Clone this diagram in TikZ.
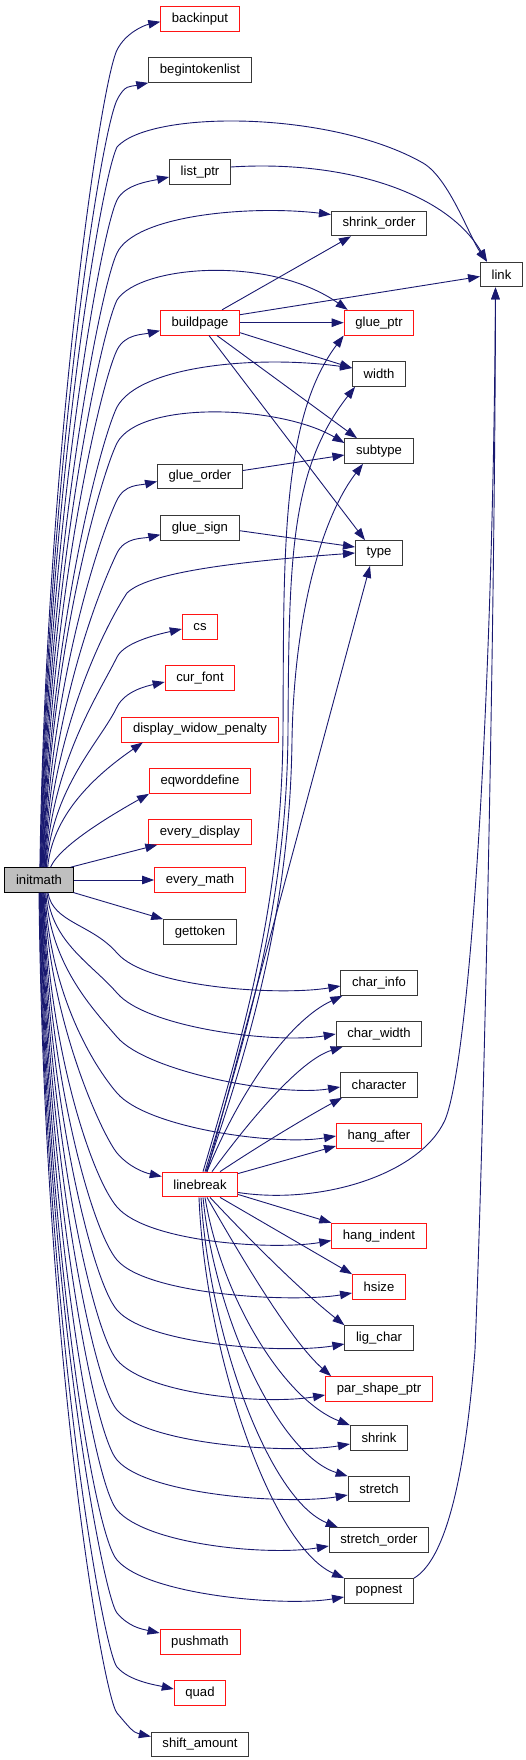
\documentclass[tikz,border=0pt]{standalone}
\usepackage{fontspec}
\setmainfont{Liberation Sans}
\usetikzlibrary{arrows.meta}
\definecolor{edgeblue}{RGB}{25,25,112}
\definecolor{nodegray}{RGB}{191,191,191}
\definecolor{boxred}{RGB}{255,20,20}
\tikzset{
  box/.style={draw=black!78, line width=0.9pt, fill=white, minimum height=24.8pt,
    inner xsep=11.2pt, inner ysep=0pt, font=\fontsize{13.1}{15}\selectfont},
  rbox/.style={box, draw=boxred},
  edge/.style={draw=edgeblue, line width=0.9pt, -{Triangle[length=12pt,width=8.5pt]}},
}
% upward edge from initmath into a left-column target
\newcommand\edgeUp[4]{\draw[edge] (initmath.#1) .. controls +(6,-#3) and +(-17,35) .. (117,#2) .. controls +(8,-16) and +(-18,4) .. #4;}
% downward edge from initmath into a right-column target
\newcommand\edgeDnR[4]{\draw[edge] (initmath.#1) .. controls +(5,#3) and +(-25,-29) .. (117,#2) .. controls +(30,35) and +(-60,10) .. #4;}
% downward edge from initmath into a left-column target
\newcommand\edgeDnL[4]{\draw[edge] (initmath.#1) .. controls +(5,#3) and +(-14,-17) .. (117,#2) .. controls +(12,14) and +(-18,-4) .. #4;}
\begin{document}
\begin{tikzpicture}[x=1pt,y=-1pt]
\useasboundingbox (0,0) rectangle (525,1760);
% nodes
\node[box, draw=black, fill=nodegray] (initmath) at (39,880) {initmath};
\node[rbox] (backinput) at (200,18.7) {backinput};
\node[box] (begintokenlist) at (200,70) {begintokenlist};
\node[box] (listptr) at (200,172) {list\_ptr};
\node[rbox] (buildpage) at (200,322.7) {buildpage};
\node[box] (glueorder) at (200,476.5) {glue\_order};
\node[box] (gluesign) at (200,527.7) {glue\_sign};
\node[rbox] (cs) at (200,627) {cs};
\node[rbox] (curfont) at (200,678) {cur\_font};
\node[rbox] (dwp) at (200,729.6) {display\_widow\_penalty};
\node[rbox] (eqworddefine) at (200,781) {eqworddefine};
\node[rbox] (everydisplay) at (200,832) {every\_display};
\node[rbox] (everymath) at (200,880) {every\_math};
\node[box] (gettoken) at (200,932) {gettoken};
\node[rbox] (linebreak) at (200,1184.5) {linebreak};
\node[rbox] (pushmath) at (200,1642) {pushmath};
\node[rbox] (quad) at (200,1693) {quad};
\node[box] (shiftamount) at (200,1744.5) {shift\_amount};
\node[box] (shrinkorder) at (379,223.5) {shrink\_order};
\node[rbox] (glueptr) at (379,322.7) {glue\_ptr};
\node[box] (width) at (379,374) {width};
\node[box] (subtype) at (379,451) {subtype};
\node[box] (type) at (379,553) {type};
\node[box] (charinfo) at (379,983) {char\_info};
\node[box] (charwidth) at (379,1034) {char\_width};
\node[box] (character) at (379,1085) {character};
\node[rbox] (hangafter) at (379,1136) {hang\_after};
\node[rbox] (hangindent) at (379,1235.6) {hang\_indent};
\node[rbox] (hsize) at (379,1287) {hsize};
\node[box] (ligchar) at (379,1338) {lig\_char};
\node[rbox] (parshapeptr) at (379,1389) {par\_shape\_ptr};
\node[box] (shrink) at (379,1438) {shrink};
\node[box] (stretch) at (379,1489) {stretch};
\node[box] (stretchorder) at (379,1540) {stretch\_order};
\node[box] (popnest) at (379,1591) {popnest};
\node[box] (link) at (501.5,274.5) {link};
% initmath -> upper left column
\edgeUp{86}{50}{408}{([yshift=-3pt]backinput.west)}
\edgeUp{84}{100}{383}{(begintokenlist.south west)}
\edgeUp{80}{200}{333}{([yshift=-5pt]listptr.west)}
\edgeUp{74}{350}{258}{([yshift=-8pt]buildpage.west)}
\edgeUp{68}{500}{183}{([yshift=-5pt]glueorder.west)}
\edgeUp{66}{553}{157}{([yshift=-7pt]gluesign.west)}
\edgeUp{62}{657}{105}{([yshift=-2pt]cs.west)}
\edgeUp{60}{707}{80}{([yshift=-4pt]curfont.west)}
\draw[edge] (initmath.56) .. controls (53,810) and (103,770) .. ([xshift=21.5pt]dwp.south west);
\draw[edge] (initmath.48) .. controls (60,845) and (115,813) .. (eqworddefine.south west);
\draw[edge] (initmath.22) -- ([xshift=9pt]everydisplay.south west);
\draw[edge] (initmath.east) -- (everymath.west);
\draw[edge] (initmath.-20) -- (gettoken.north west);
% initmath -> upper right column
\draw[edge] (initmath.82) .. controls +(6,-360) and +(-17,35) .. (117,147) .. controls +(33,-37) and (330,110) .. (423,163) .. controls (449,178) and (470,238) .. ([xshift=7pt]link.north west);
\draw[edge] (initmath.78) .. controls +(6,-307) and +(-17,35) .. (117,253) .. controls +(18,-38) and (250,205) .. ([yshift=9pt]shrinkorder.west);
\draw[edge] (initmath.76) .. controls +(6,-283) and +(-17,35) .. (117,300) .. controls +(23,-35) and (270,255) .. ([xshift=4pt]glueptr.north west);
\draw[edge] (initmath.72) .. controls +(6,-230) and +(-17,35) .. (117,407) .. controls +(23,-42) and (260,355) .. ([yshift=6pt]width.west);
\draw[edge] (initmath.70) .. controls +(6,-212) and +(-17,35) .. (117,443) .. controls +(23,-43) and (280,405) .. ([yshift=8pt]subtype.west);
\draw[edge] (initmath.64) .. controls +(6,-137) and +(-20,30) .. (127,593) .. controls +(23,-23) and (260,560) .. (type.west);
% initmath -> lower right column
\edgeDnR{-55}{953}{30}{([yshift=-3pt]charinfo.west)}
\edgeDnR{-58}{993}{50}{(charwidth.west)}
\edgeDnR{-62}{1037}{72}{([yshift=-2pt]character.west)}
\edgeDnR{-65}{1093}{100}{(hangafter.west)}
\edgeDnR{-70}{1207}{157}{([yshift=-5pt]hangindent.west)}
\edgeDnR{-72}{1260}{183}{([yshift=-6pt]hsize.west)}
\edgeDnR{-74}{1310}{208}{([yshift=-6pt]ligchar.west)}
\edgeDnR{-76}{1360}{233}{([yshift=-6pt]parshapeptr.west)}
\edgeDnR{-78}{1410}{258}{([yshift=-6pt]shrink.west)}
\edgeDnR{-80}{1460}{283}{([yshift=-6pt]stretch.west)}
\edgeDnR{-82}{1510}{308}{([yshift=-6pt]stretchorder.west)}
\edgeDnR{-84}{1560}{333}{([yshift=-6pt]popnest.west)}
% initmath -> lower left column
\edgeDnL{-68}{1153}{130}{([yshift=8pt]linebreak.west)}
\edgeDnL{-86}{1613}{400}{([yshift=9pt]pushmath.west)}
\edgeDnL{-88}{1667}{430}{([yshift=4pt]quad.west)}
\edgeDnL{-90}{1713}{460}{([yshift=8pt]shiftamount.west)}
% list_ptr
\draw[edge] ([yshift=5pt]listptr.east) .. controls (340,160) and (445,190) .. ([xshift=7pt]link.north west);
% buildpage
\draw[edge] ([xshift=22pt]buildpage.north) -- ([xshift=20pt]shrinkorder.south west);
\draw[edge] ([yshift=8pt]buildpage.east) -- ([yshift=-2pt]link.west);
\draw[edge] (buildpage.east) -- (glueptr.west);
\draw[edge] ([yshift=-10pt]buildpage.east) -- ([yshift=6pt]width.west);
\draw[edge] ([xshift=17pt]buildpage.south) -- ([xshift=-22pt]subtype.north);
\draw[edge] ([xshift=9pt]buildpage.south) -- ([xshift=-14pt]type.north);
% glue_order, glue_sign
\draw[edge] ([yshift=6pt]glueorder.east) -- ([yshift=-4pt]subtype.west);
\draw[edge] ([yshift=-3pt]gluesign.east) -- ([yshift=6pt]type.west);
% linebreak
\draw[edge] ([xshift=3pt]linebreak.north) .. controls (245,1030) and (282,900) .. (283,730) .. controls (284,560) and (280,420) .. (glueptr.south west);
\draw[edge] ([xshift=5pt]linebreak.north) .. controls (248,1030) and (287,900) .. (288,730) .. controls (289,560) and (290,470) .. ([xshift=3pt]width.south west);
\draw[edge] ([xshift=6pt]linebreak.north) .. controls (255,1030) and (290,900) .. (292,740) .. controls (294,620) and (320,520) .. ([xshift=-16pt]subtype.south);
\draw[edge] ([xshift=7pt]linebreak.north) -- ([xshift=-9pt]type.south);
\draw[edge] ([xshift=7pt]linebreak.north) .. controls (240,1090) and (290,1020) .. ([xshift=2pt]charinfo.south west);
\draw[edge] ([xshift=12pt]linebreak.north) .. controls (250,1120) and (300,1060) .. ([xshift=7pt]charwidth.south west);
\draw[edge] ([xshift=20pt]linebreak.north) .. controls (260,1145) and (310,1115) .. ([xshift=2pt]character.south west);
\draw[edge] ([yshift=11pt]linebreak.east) -- ([yshift=-10pt]hangafter.west);
\draw[edge] ([yshift=-8pt]linebreak.east) .. controls (320,1205) and (420,1175) .. (445,1120) .. controls (470,1060) and (493,700) .. ([xshift=-6pt]link.south);
\draw[edge] ([yshift=-10pt]linebreak.east) -- (hangindent.north west);
\draw[edge] ([xshift=20pt]linebreak.south) -- (hsize.north west);
\draw[edge] ([xshift=10pt]linebreak.south) .. controls (250,1240) and (300,1290) .. (ligchar.north west);
\draw[edge] ([xshift=7pt]linebreak.south) .. controls (240,1255) and (290,1340) .. ([xshift=6pt]parshapeptr.north west);
\draw[edge] ([xshift=5pt]linebreak.south) .. controls (222,1300) and (285,1400) .. (shrink.north west);
\draw[edge] ([xshift=3pt]linebreak.south) .. controls (215,1320) and (280,1455) .. (stretch.north west);
\draw[edge] ([xshift=1pt]linebreak.south) .. controls (210,1340) and (270,1500) .. ([xshift=9pt]stretchorder.north west);
\draw[edge] ([xshift=-1pt]linebreak.south) .. controls (205,1350) and (270,1545) .. (popnest.north west);
% popnest
\draw[edge] (popnest.north east) .. controls (445,1560) and (465,1480) .. (475,1350) .. controls (485,1100) and (495,600) .. ([xshift=-6pt]link.south);
\end{tikzpicture}
\end{document}
